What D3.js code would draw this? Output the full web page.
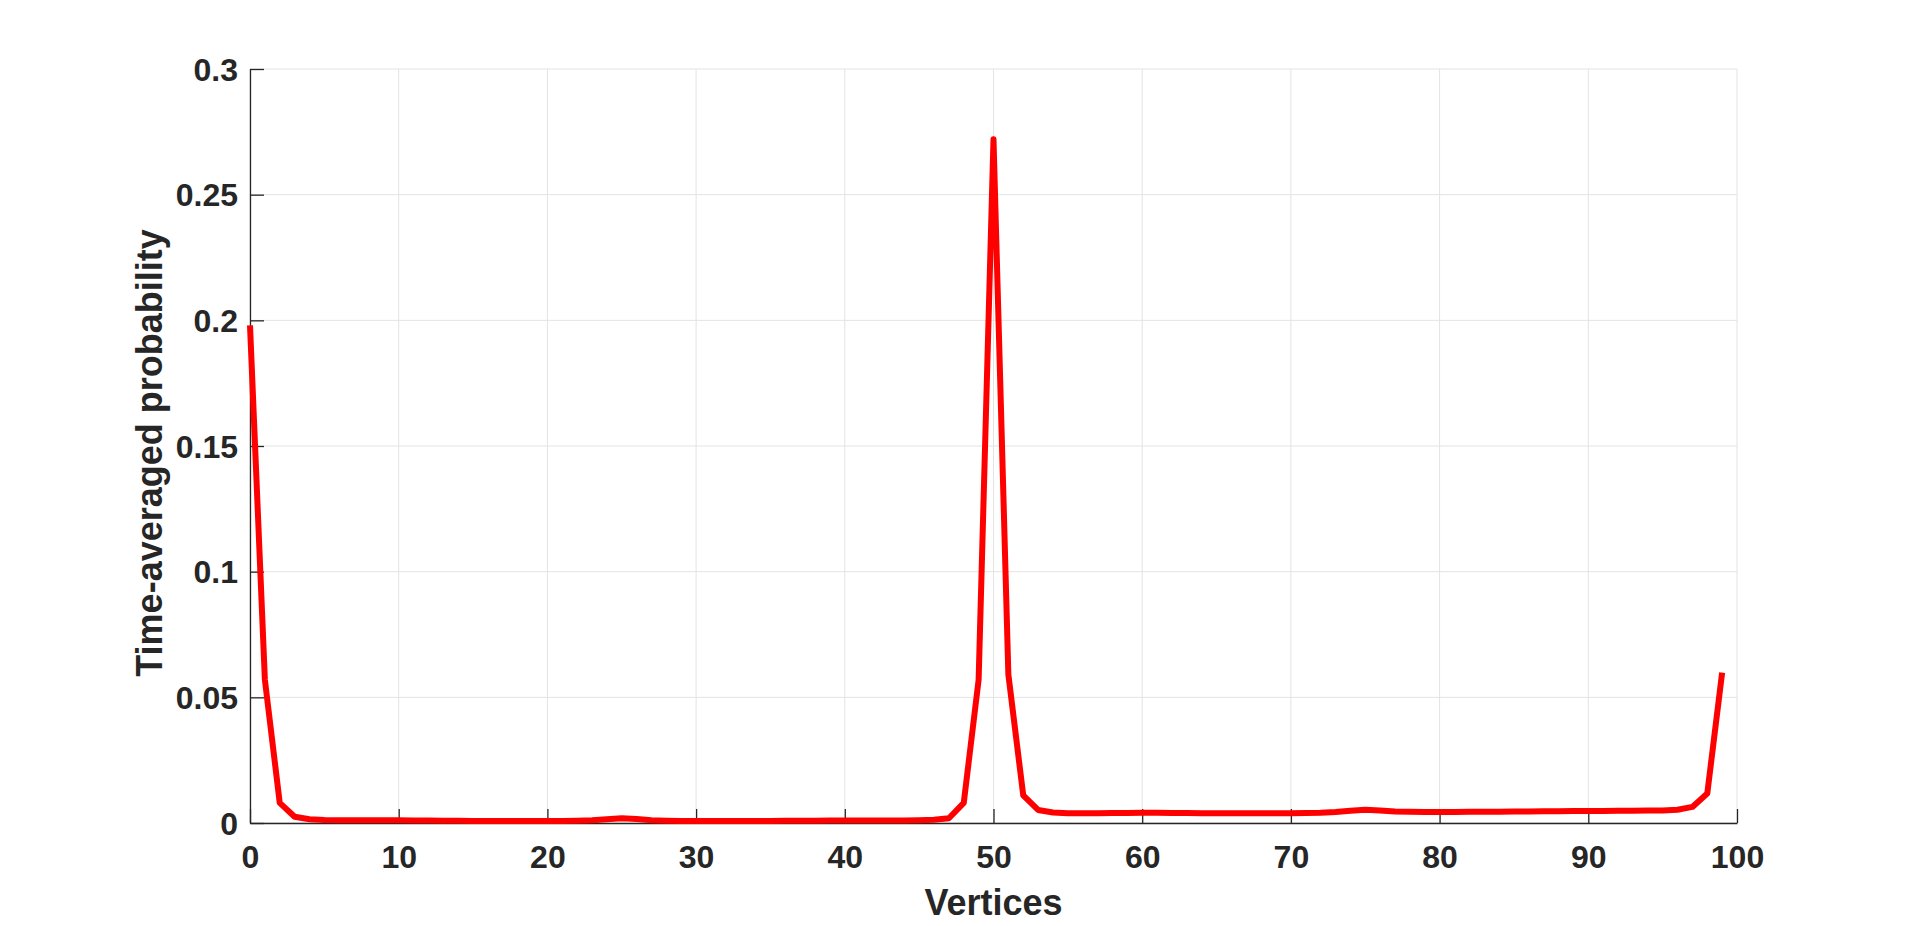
<!DOCTYPE html>
<html>
<head>
<meta charset="utf-8">
<script src="https://cdn.jsdelivr.net/npm/d3@7"></script>
<style>
  html, body { margin: 0; padding: 0; background: #ffffff; }
  svg { display: block; }
</style>
</head>
<body>
<svg id="chart" width="1920" height="926"></svg>
<script>
// ---- data ----
const vertices = d3.range(0, 100);
const probability = [
  0.198, 0.057, 0.008, 0.0025, 0.0015, 0.0012, 0.0011, 0.0011, 0.0011, 0.0011,
  0.0011, 0.0010, 0.0010, 0.0009, 0.0009, 0.0008, 0.0008, 0.0008, 0.0008, 0.0008,
  0.0008, 0.0008, 0.0009, 0.0011, 0.0015, 0.0019, 0.0016, 0.0011, 0.0009, 0.0008,
  0.0008, 0.0008, 0.0008, 0.0008, 0.0008, 0.0008, 0.0009, 0.0009, 0.0009, 0.0010,
  0.0010, 0.0010, 0.0010, 0.0010, 0.0010, 0.0011, 0.0013, 0.0019, 0.008, 0.057,
  0.272, 0.059, 0.011, 0.0052, 0.0042, 0.0039, 0.0039, 0.0039, 0.0040, 0.0040,
  0.0041, 0.0041, 0.0040, 0.0040, 0.0039, 0.0039, 0.0039, 0.0039, 0.0039, 0.0039,
  0.0039, 0.0040, 0.0041, 0.0044, 0.0049, 0.0053, 0.0050, 0.0046, 0.0045, 0.0044,
  0.0044, 0.0044, 0.0045, 0.0045, 0.0045, 0.0046, 0.0046, 0.0047, 0.0047, 0.0048,
  0.0048, 0.0048, 0.0049, 0.0049, 0.0050, 0.0050, 0.0053, 0.0064, 0.0117, 0.0598
];
const xTicks = [0, 10, 20, 30, 40, 50, 60, 70, 80, 90, 100];
const yTicks = [0, 0.05, 0.1, 0.15, 0.2, 0.25, 0.3];
const xLabel = "Vertices";
const yLabel = "Time-averaged probability";

// ---- layout ----
const plotLeft = 250, plotRight = 1737, plotTop = 69, plotBottom = 823;
const svg = d3.select("#chart");
const x = d3.scaleLinear().domain([0, 100]).range([plotLeft, plotRight]);
const y = d3.scaleLinear().domain([0, 0.3]).range([plotBottom, plotTop]);
const axisColor = "#262626";
const gridColor = "#e3e3e3";
const font = "'Liberation Sans', Arial, Helvetica, sans-serif";

// grid
const grid = svg.append("g");
grid.selectAll("line.gx").data(xTicks).join("line")
  .attr("class", "gx")
  .attr("x1", d => x(d)).attr("x2", d => x(d))
  .attr("y1", plotTop).attr("y2", plotBottom)
  .attr("stroke", gridColor).attr("stroke-width", 1);
grid.selectAll("line.gy").data(yTicks).join("line")
  .attr("class", "gy")
  .attr("x1", plotLeft).attr("x2", plotRight)
  .attr("y1", d => y(d)).attr("y2", d => y(d))
  .attr("stroke", gridColor).attr("stroke-width", 1);

// axes (ticks inward)
const fmtY = d => d === 0 ? "0" : String(+d.toFixed(2));
const xAxis = svg.append("g")
  .attr("transform", `translate(0,${plotBottom})`)
  .call(d3.axisBottom(x).tickValues(xTicks).tickSizeInner(-14).tickSizeOuter(0).tickPadding(22).tickFormat(d3.format("d")));
const yAxis = svg.append("g")
  .attr("transform", `translate(${plotLeft},0)`)
  .call(d3.axisLeft(y).tickValues(yTicks).tickSizeInner(-14).tickSizeOuter(0).tickPadding(12).tickFormat(fmtY));

[xAxis, yAxis].forEach(g => {
  g.select(".domain").attr("stroke", axisColor).attr("stroke-width", 1.3);
  g.selectAll(".tick line").attr("stroke", axisColor).attr("stroke-width", 1.3);
  g.selectAll(".tick text")
    .attr("fill", axisColor)
    .style("font-family", font)
    .style("font-weight", "bold")
    .style("font-size", "32px");
});
xAxis.selectAll(".tick text").attr("dy", "0.71em");
yAxis.selectAll(".tick text").attr("dy", "0.35em");

// line
const line = d3.line()
  .x((d, i) => x(vertices[i]))
  .y(d => y(d));
svg.append("path")
  .datum(probability)
  .attr("d", line)
  .attr("fill", "none")
  .attr("stroke", "#ff0000")
  .attr("stroke-width", 6)
  .attr("stroke-linejoin", "round")
  .attr("stroke-linecap", "butt");

// labels
svg.append("text")
  .attr("x", (plotLeft + plotRight) / 2)
  .attr("y", 915)
  .attr("text-anchor", "middle")
  .attr("fill", axisColor)
  .style("font-family", font)
  .style("font-weight", "bold")
  .style("font-size", "36px")
  .text(xLabel);

svg.append("text")
  .attr("transform", "translate(162,453) rotate(-90)")
  .attr("text-anchor", "middle")
  .attr("fill", axisColor)
  .style("font-family", font)
  .style("font-weight", "bold")
  .style("font-size", "36px")
  .text(yLabel);
</script>
</body>
</html>
